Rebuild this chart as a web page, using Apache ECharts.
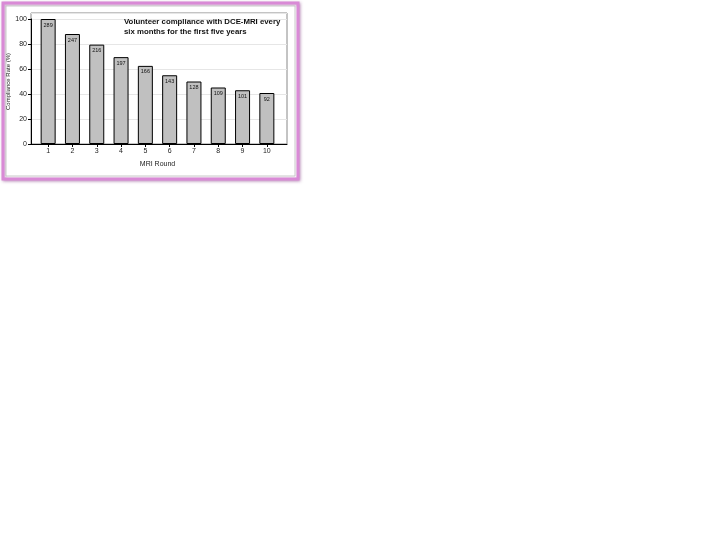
<!DOCTYPE html>
<html>
<head>
<meta charset="utf-8">
<script src="https://cdn.jsdelivr.net/npm/echarts@6/dist/echarts.min.js"></script>
<style>
html,body{margin:0;padding:0;background:#fff;}
#chart{width:720px;height:548px;}
</style>
</head>
<body>
<div id="chart"></div>
<script>
var rounds = ['1','2','3','4','5','6','7','8','9','10'];
var complianceRate = [100, 88, 79.5, 69.5, 62.5, 55, 50, 45.2, 43, 40.8];
var volunteerCounts = ['289','247','216','197','166','143','128','109','101','92'];
var yTicks = [0, 20, 40, 60, 80, 100];

var FONT = '"Liberation Sans", Arial, sans-serif';
var chart = echarts.init(document.getElementById('chart'), null, {renderer: 'canvas'});

chart.setOption({
  animation: false,
  backgroundColor: '#fff',
  textStyle: {fontFamily: FONT},
  title: {
    text: 'Volunteer compliance with DCE-MRI every\nsix months for the first five years',
    left: 124, top: 17, padding: 0,
    textStyle: {fontFamily: FONT, fontSize: 7.8, fontWeight: 'bold', color: '#111', lineHeight: 10}
  },
  graphic: [
    {type: 'rect', shape: {x: 3, y: 3, width: 295, height: 176},
     style: {fill: '#fff', stroke: '#d98ad6', lineWidth: 3, shadowBlur: 3, shadowColor: 'rgba(150,80,150,0.5)', shadowOffsetX: 1, shadowOffsetY: 1}, z: -10},
    {type: 'rect', shape: {x: 6, y: 6, width: 289, height: 170},
     style: {fill: '#fff', stroke: '#bbb', lineWidth: 0.8}, z: -9}
  ],
  grid: [
    {left: 31, top: 13, width: 256, height: 131, show: true, borderColor: '#888', borderWidth: 1, backgroundColor: 'transparent'},
    {left: 36, top: 19, width: 243, height: 125}
  ],
  xAxis: [
    {gridIndex: 0, type: 'value', min: 0, max: 1,
     axisLine: {show: true, onZero: false, lineStyle: {color: '#000', width: 1}},
     axisTick: {show: false}, axisLabel: {show: false}, splitLine: {show: false}},
    {gridIndex: 1, type: 'category', data: rounds,
     axisLine: {show: false},
     axisTick: {show: true, alignWithLabel: true, length: 3, lineStyle: {color: '#000'}},
     axisLabel: {fontSize: 7, color: '#222', margin: 4, fontFamily: FONT},
     name: 'MRI Round', nameLocation: 'middle', nameGap: 17,
     nameTextStyle: {fontSize: 7, color: '#222', fontFamily: FONT}}
  ],
  yAxis: [
    {gridIndex: 0, type: 'value', min: 0, max: 104.8, interval: 20,
     axisLine: {show: false}, axisTick: {show: false}, axisLabel: {show: false},
     splitLine: {show: true, lineStyle: {color: '#e6e6e6', width: 1}}},
    {gridIndex: 1, type: 'value', min: yTicks[0], max: yTicks[yTicks.length - 1], interval: 20, offset: 5,
     axisLine: {show: true, lineStyle: {color: '#000', width: 1}},
     axisTick: {show: true, length: 3, lineStyle: {color: '#000'}},
     axisLabel: {fontSize: 7, color: '#222', margin: 4, fontFamily: FONT},
     splitLine: {show: false},
     name: 'Compliance Rate (%)', nameLocation: 'middle', nameGap: 20, nameRotate: 90,
     nameTextStyle: {fontSize: 6, color: '#222', fontFamily: FONT}}
  ],
  series: [{
    type: 'bar', xAxisIndex: 1, yAxisIndex: 1,
    data: complianceRate,
    barWidth: 15,
    itemStyle: {color: '#c0c0c0', borderColor: '#000', borderWidth: 1},
    label: {
      show: true, position: 'insideTop', distance: 3,
      fontSize: 5.5, color: '#111', fontFamily: FONT,
      formatter: function (p) { return volunteerCounts[p.dataIndex]; }
    }
  }]
});
</script>
</body>
</html>
